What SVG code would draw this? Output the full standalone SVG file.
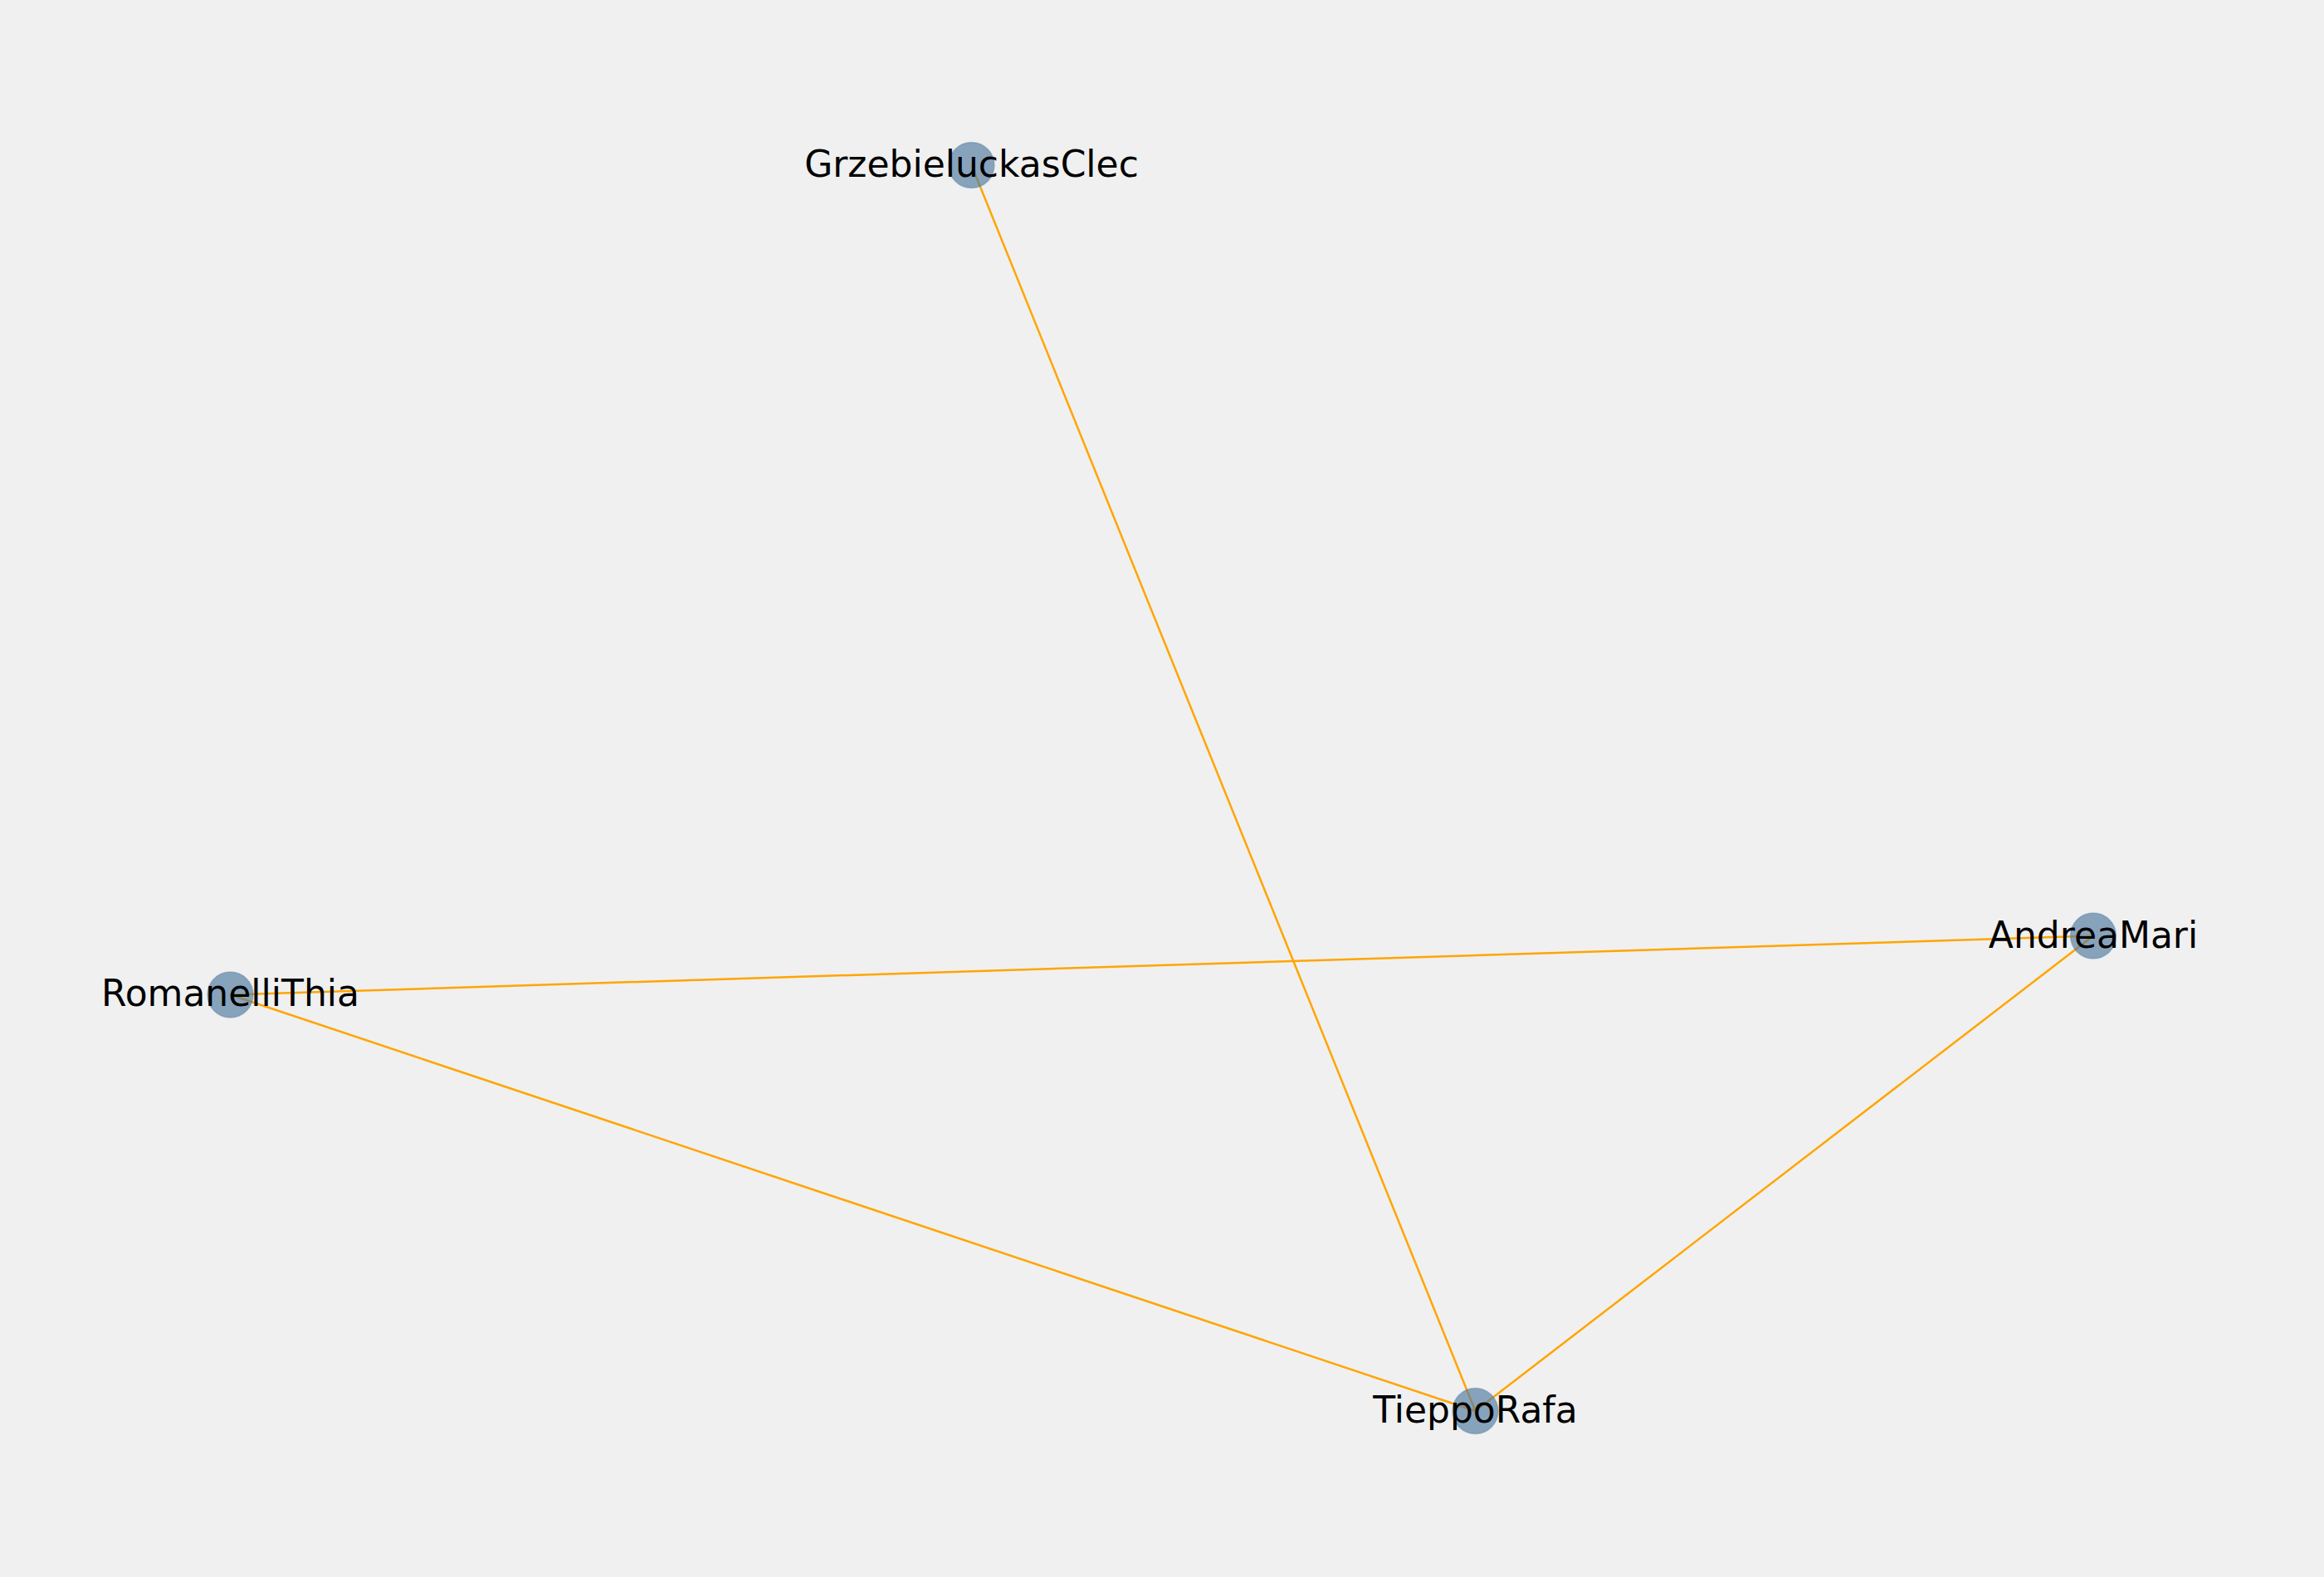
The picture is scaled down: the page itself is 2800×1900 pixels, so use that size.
<svg xmlns="http://www.w3.org/2000/svg" width="2800" height="1900" viewBox="0 0 2800 1900">
<style>
.edge{stroke:#ffa500;stroke-width:2.5;fill:none}
.node circle{fill:#4f7aa0;fill-opacity:0.65;stroke:#4f7aa0;stroke-opacity:0.4;stroke-width:1.5}
.node text{font-family:"DejaVu Sans",sans-serif;font-size:44px;fill:#000;text-anchor:middle}
</style>
<rect x="0" y="0" width="2800" height="1900" fill="#f0f0f0"/>
<g id="edges">
<line class="edge" x1="1170.5" y1="199" x2="1777.5" y2="1700"/>
<line class="edge" x1="277.5" y1="1198.5" x2="2522" y2="1127.5"/>
<line class="edge" x1="277.5" y1="1198.5" x2="1777.5" y2="1700"/>
<line class="edge" x1="2522" y1="1127.5" x2="1777.5" y2="1700"/>
</g>
<g id="node-GrzebieluckasClec" class="node"><circle cx="1170.5" cy="199" r="27.5"/><text x="1170.5" y="213">GrzebieluckasClec</text></g>
<g id="node-AndreaMari" class="node"><circle cx="2522" cy="1127.5" r="27.5"/><text x="2522" y="1141.5">AndreaMari</text></g>
<g id="node-RomanelliThia" class="node"><circle cx="277.5" cy="1198.5" r="27.5"/><text x="277.5" y="1212">RomanelliThia</text></g>
<g id="node-TieppoRafa" class="node"><circle cx="1777.5" cy="1700" r="27.5"/><text x="1777.5" y="1713.5">TieppoRafa</text></g>
</svg>
